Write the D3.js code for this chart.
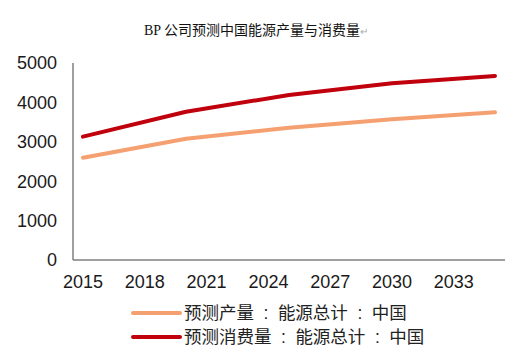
<!DOCTYPE html>
<html><head><meta charset="utf-8">
<script src="https://cdn.jsdelivr.net/npm/d3@7"></script>
<style>body{margin:0;background:#fff}svg{display:block}</style>
</head><body>
<script>
const years = [2015, 2020, 2025, 2030, 2035];
const production = [2597, 3079, 3358, 3571, 3749];
const consumption = [3130, 3764, 4188, 4485, 4670];
const xTicks = [2015, 2018, 2021, 2024, 2027, 2030, 2033];
const yTicks = [0, 1000, 2000, 3000, 4000, 5000];
const seriesNames = [["预测产量", "能源总计", "中国"], ["预测消费量", "能源总计", "中国"]];
const title = "BP 公司预测中国能源产量与消费量";

const W = 532, H = 362;
const svg = d3.select("body").append("svg").attr("width", W).attr("height", H);
const x = d3.scaleLinear().domain([2015, 2035]).range([83, 495]);
const y = d3.scaleLinear().domain([0, 5000]).range([260, 63]);

// title
const t = svg.append("text").attr("x", 256).attr("y", 35).attr("text-anchor", "middle")
  .style("font-family", "'Liberation Serif','Noto Sans CJK SC',serif").style("font-size", "14px").attr("fill", "#111");
t.append("tspan").text(title);
t.append("tspan").attr("fill", "#aaa").style("font-size", "10px").text("↵");

// axes
const axisColor = "#7f7f7f";
const fontAxis = "'Liberation Sans',Arial,sans-serif";
svg.append("line").attr("x1", 73).attr("x2", 73).attr("y1", y(5000)).attr("y2", y(0))
  .attr("stroke", axisColor).attr("stroke-width", 1.5);
svg.append("line").attr("x1", 73).attr("x2", 505).attr("y1", y(0)).attr("y2", y(0))
  .attr("stroke", axisColor).attr("stroke-width", 1.5);

svg.selectAll(".yl").data(yTicks).join("text")
  .attr("x", 57).attr("y", d => y(d)).attr("dy", "0.36em").attr("text-anchor", "end")
  .style("font-family", fontAxis).style("font-size", "18px").attr("fill", "#1a1a1a").text(d => d);
svg.selectAll(".xl").data(xTicks).join("text")
  .attr("x", d => x(d)).attr("y", 288).attr("text-anchor", "middle")
  .style("font-family", fontAxis).style("font-size", "18px").attr("fill", "#1a1a1a").text(d => d);

const colors = ["#f5a070", "#c0000c"];
const line = d3.line().x((d, i) => x(years[i])).y(d => y(d));
[production, consumption].forEach((s, k) => {
  svg.append("path").attr("d", line(s)).attr("fill", "none").attr("stroke", colors[k])
    .attr("stroke-width", 4).attr("stroke-linecap", "round").attr("stroke-linejoin", "round");
});

// legend
seriesNames.forEach((parts, k) => {
  const ly = 313 + k * 24;
  svg.append("line").attr("x1", 133).attr("x2", 180).attr("y1", ly).attr("y2", ly)
    .attr("stroke", colors[k]).attr("stroke-width", 4).attr("stroke-linecap", "round");
  const tx = svg.append("text").attr("x", 184).attr("y", ly).attr("dy", "0.36em")
    .style("font-family", "'Noto Sans CJK SC',sans-serif").style("font-size", "17.5px")
    .attr("fill", "#222");
  parts.forEach((p, i) => {
    if (i > 0) tx.append("tspan").attr("dx", 9.5).style("font-family", fontAxis).text(":");
    tx.append("tspan").attr("dx", i > 0 ? 9.5 : 0).text(p);
  });
});
</script>
</body></html>
